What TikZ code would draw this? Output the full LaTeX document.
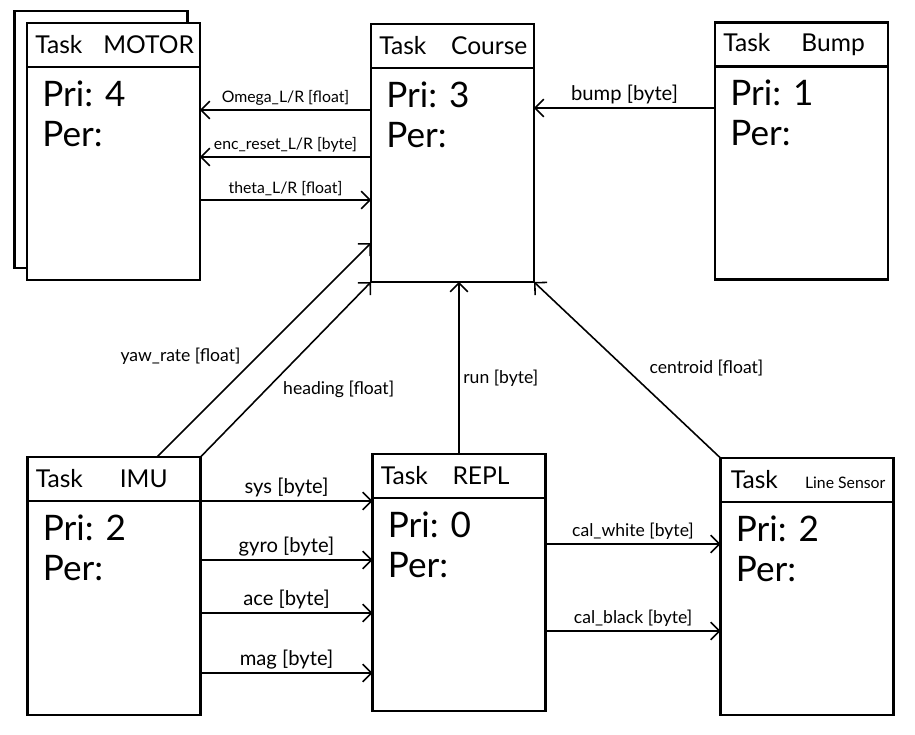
\documentclass[tikz,border=0pt]{standalone}
\usepackage{fontspec}
\setmainfont{Lato}
\usetikzlibrary{arrows.meta, positioning}

\begin{document}
\begin{tikzpicture}[x=0.02cm, y=-0.02cm, >={Straight Barb[length=5pt,width=10pt]},
  task/.style={draw, rectangle, line width=1.2pt, fill=white, outer sep=0pt,
    minimum width=3.46cm, minimum height=5.14cm, inner sep=0pt},
  title/.style={anchor=west, inner sep=0pt, font=\fontsize{14}{16}\selectfont},
  field/.style={anchor=base west, inner sep=0pt, font=\fontsize{20}{22}\selectfont},
  smallmsg/.style={font=\fontsize{9}{10}\selectfont, inner sep=2pt},
  msg/.style={font=\fontsize{10}{11}\selectfont, inner sep=2pt},
  imumsg/.style={font=\fontsize{11.5}{12}\selectfont, inner sep=2pt}]
  \useasboundingbox (0,0) rectangle (915,734);

  % boxes
  \node[task] (motorback) at (101,139.5) {};
  \node[task] (motor) at (113.5,151.5) {};
  \node[task, minimum width=3.26cm, minimum height=5.16cm] (course) at (452.5,153) {};
  \node[task] (bump) at (801.5,151) {};
  \node[task, minimum height=5.16cm] (imu) at (114,586) {};
  \node[task] (repl) at (459,582.5) {};
  \node[task] (sensor) at (807,586.5) {};

  % headers
  \foreach \n in {motor,course,bump,imu,repl,sensor}
    \draw[line width=1.2pt] ([yshift=-0.88cm]\n.north west) -- ([yshift=-0.88cm]\n.north east);

  \node[title] (motorT) at ([xshift=0.16cm, yshift=-0.44cm]motor.north west) {Task\hspace{0.85em}MOTOR};
  \node[title] (courseT) at ([xshift=0.16cm, yshift=-0.44cm]course.north west) {Task\quad Course};
  \node[title] (bumpT) at ([xshift=0.16cm, yshift=-0.44cm]bump.north west) {Task\quad\ Bump};
  \node[title] (imuT) at ([xshift=0.16cm, yshift=-0.44cm]imu.north west) {Task\hspace{1.5em}IMU};
  \node[title] (replT) at ([xshift=0.16cm, yshift=-0.44cm]repl.north west) {Task\quad REPL};
  \node[title] (sensorT) at ([xshift=0.2cm, yshift=-0.44cm]sensor.north west) {Task\hspace{1.1em}{\fontsize{9}{11}\selectfont Line Sensor}};

  % pri / per
  \foreach \n/\p in {motor/4,course/3,bump/1,imu/2,repl/0,sensor/2} {
    \node[field] (\n Pri) at ([xshift=0.3cm, yshift=-1.66cm]\n.north west) {Pri: \p};
    \node[field] (\n Per) at ([xshift=0.3cm, yshift=-2.46cm]\n.north west) {Per:};
  }

  \path[->, line width=0.9pt]
    (course.west |- 0,110) edge node[smallmsg, above] {Omega\_L/R [float]} (motor.east |- 0,110)
    (course.west |- 0,157) edge node[smallmsg, above] {enc\_reset\_L/R [byte]} (motor.east |- 0,157)
    (motor.east |- 0,200) edge node[smallmsg, above] {theta\_L/R [float]} (course.west |- 0,200)
    (bump.west |- 0,108) edge node[imumsg, above] {bump [byte]} (course.east |- 0,108)
    (imu.north -| 157,0) edge node[msg, pos=0.41, anchor=south east] {yaw\_rate [float]} (course.west |- 0,243)
    (imu.north east) edge node[msg, pos=0.46, anchor=north west] {heading [float]} (course.south west)
    (repl.north) edge node[msg, pos=0.44, right] {run [byte]} (repl.north |- course.south)
    (sensor.north west) edge node[msg, pos=0.51, anchor=west, xshift=0.4cm] {centroid [float]} (course.south east)
  %imu
    (imu.east |- 0,501) edge node[imumsg, above] {sys [byte]} (repl.west |- 0,501)
    (imu.east |- 0,560) edge node[imumsg, above] {gyro [byte]} (repl.west |- 0,560)
    (imu.east |- 0,613) edge node[imumsg, above] {ace [byte]} (repl.west |- 0,613)
    (imu.east |- 0,673) edge node[imumsg, above] {mag [byte]} (repl.west |- 0,673)
  %repl
    (repl.east |- 0,544) edge node[msg, above] {cal\_white [byte]} (sensor.west |- 0,544)
    (repl.east |- 0,631) edge node[msg, above] {cal\_black [byte]} (sensor.west |- 0,631);
\end{tikzpicture}
\end{document}
